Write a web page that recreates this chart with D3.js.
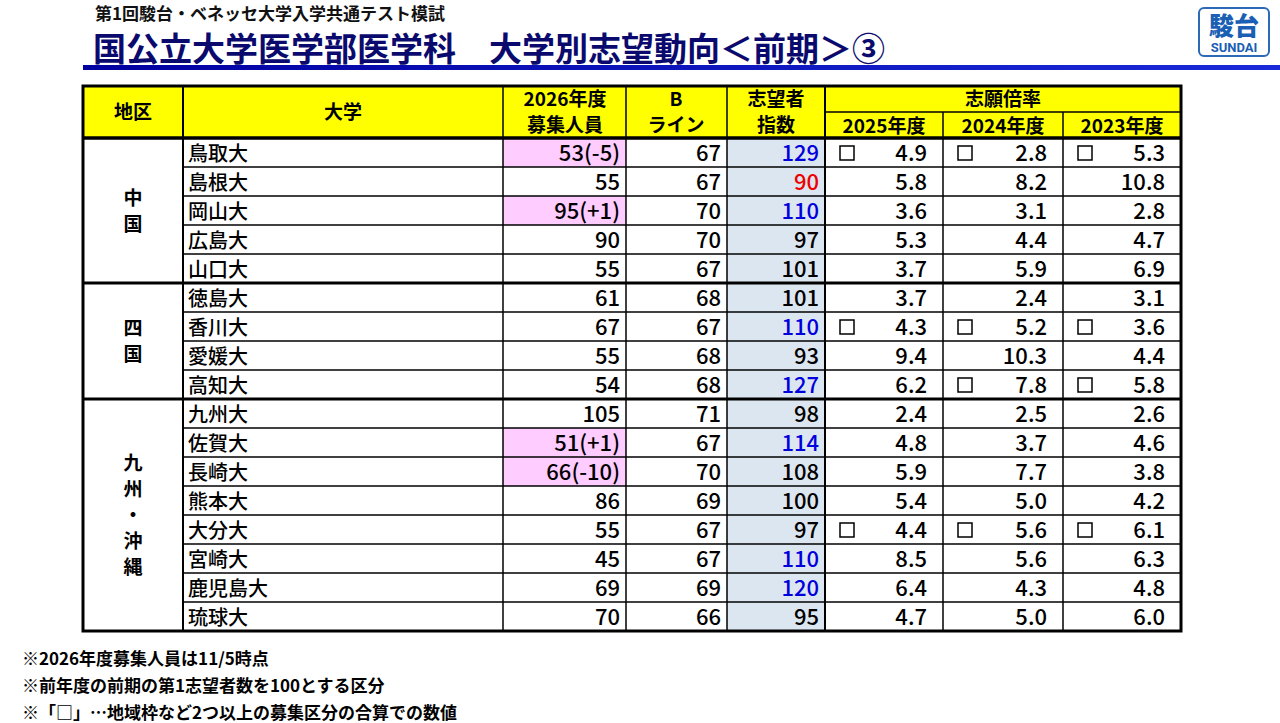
<!DOCTYPE html><html><head><meta charset="utf-8"><script src="https://cdn.jsdelivr.net/npm/d3@7"></script>
<style>body{margin:0;background:#fff}svg{display:block}</style></head><body><svg id="c" width="1280" height="723"></svg>
<script>
const regions=[{name:"中国",n:5},{name:"四国",n:4},{name:"九州・沖縄",n:8}];
const universities=["鳥取大","島根大","岡山大","広島大","山口大","徳島大","香川大","愛媛大","高知大","九州大","佐賀大","長崎大","熊本大","大分大","宮崎大","鹿児島大","琉球大"];
const capacity=["53(-5)","55","95(+1)","90","55","61","67","55","54","105","51(+1)","66(-10)","86","55","45","69","70"];
const bLine=[67,67,70,70,67,68,67,68,68,71,67,70,69,67,67,69,66];
const applicantIndex=[129,90,110,97,101,101,110,93,127,98,114,108,100,97,110,120,95];
const r2025=["4.9","5.8","3.6","5.3","3.7","3.7","4.3","9.4","6.2","2.4","4.8","5.9","5.4","4.4","8.5","6.4","4.7"];
const r2024=["2.8","8.2","3.1","4.4","5.9","2.4","5.2","10.3","7.8","2.5","3.7","7.7","5.0","5.6","5.6","4.3","5.0"];
const r2023=["5.3","10.8","2.8","4.7","6.9","3.1","3.6","4.4","5.8","2.6","4.6","3.8","4.2","6.1","6.3","4.8","6.0"];
const box2025=[1,0,0,0,0,0,1,0,0,0,0,0,0,1,0,0,0];
const box2024=[1,0,0,0,0,0,1,0,1,0,0,0,0,1,0,0,0];
const box2023=[1,0,0,0,0,0,1,0,1,0,0,0,0,1,0,0,0];
const notes=["※2026年度募集人員は11/5時点","※前年度の前期の第1志望者数を100とする区分","※「□」…地域枠など2つ以上の募集区分の合算での数値"];

const svg=d3.select("#c");const F="'Noto Sans CJK JP','Noto Sans',sans-serif";
svg.append("text").attr("x",95).attr("y",20).attr("font-family",F).attr("font-weight",700).attr("font-size",17).attr("fill","#111").text("第1回駿台・ベネッセ大学入学共通テスト模試");
svg.append("text").attr("x",93).attr("y",61).attr("font-family",F).attr("font-weight",700).attr("font-size",33).attr("fill","#0a0a6e").text("国公立大学医学部医学科　大学別志望動向＜前期＞③");
const g=svg.append("defs").append("linearGradient").attr("id","bl");
g.append("stop").attr("offset","0").attr("stop-color","#0000a0");g.append("stop").attr("offset","1").attr("stop-color","#1a2ad8");
svg.append("rect").attr("x",83).attr("y",65).attr("width",1197).attr("height",5).attr("fill","url(#bl)");
svg.append("rect").attr("x",1199).attr("y",8).attr("width",70).attr("height",48).attr("rx",5).attr("fill","#fff").attr("stroke","#2a6ab8").attr("stroke-width",2);
svg.append("text").attr("x",1234).attr("y",35).attr("text-anchor","middle").attr("font-family",F).attr("font-weight",900).attr("font-size",25).attr("fill","#1a5fb4").text("駿台");
svg.append("text").attr("x",1234).attr("y",52).attr("text-anchor","middle").attr("font-family","'Liberation Sans Narrow',Roboto,sans-serif").attr("font-weight",700).attr("font-size",13).attr("fill","#1a5fb4").text("SUNDAI");

const cols=[83,183,503,626,727,825,943,1063,1181];
const topY=86,hb=138,rh=29;
const y=d3.scaleLinear().domain([0,universities.length]).range([hb,hb+rh*universities.length]);
svg.append("rect").attr("x",83).attr("y",topY).attr("width",1098).attr("height",hb-topY).attr("fill","#ffff00");
const T=(x,yy,t,o={})=>svg.append("text").attr("x",x).attr("y",yy).attr("text-anchor",o.a||"middle").attr("font-family",F).attr("font-weight",o.w||500).attr("font-size",o.s||22).attr("fill",o.c||"#000").text(t);
const H={s:19,w:700};
T(133,119,"地区",H);T(343,119,"大学",H);
T(565,106,"2026年度",H);T(565,132,"募集人員",H);
T(676,106,"B",H);T(676,132,"ライン",H);
T(776,106,"志望者",H);T(776,132,"指数",H);
T(1003,106,"志願倍率",H);
["2025年度","2024年度","2023年度"].forEach((t,i)=>T((cols[5+i]+cols[6+i])/2,133,t,H));
universities.forEach((u,i)=>{
 const y0=y(i),yc=y(i)+23;
 if(capacity[i].includes("(")) svg.append("rect").attr("x",cols[2]).attr("y",y0).attr("width",cols[3]-cols[2]).attr("height",rh).attr("fill","#ffccff");
 svg.append("rect").attr("x",cols[4]).attr("y",y0).attr("width",cols[5]-cols[4]).attr("height",rh).attr("fill","#dce6f1");
 T(188,yc,u,{a:"start",s:20});
 T(cols[3]-6,yc,capacity[i],{a:"end"});
 T(cols[4]-6,yc,bLine[i],{a:"end"});
 const v=applicantIndex[i];
 T(cols[5]-6,yc,v,{a:"end",c:v>=110?"#0000dd":v<=90?"#ee0000":"#000"});
 [[r2025,box2025],[r2024,box2024],[r2023,box2023]].forEach(([r,b],k)=>{
  T(cols[6+k]-16,yc,r[i],{a:"end"});
  if(b[i]) svg.append("rect").attr("x",cols[5+k]+15).attr("y",y0+8).attr("width",14).attr("height",14).attr("fill","none").attr("stroke","#000").attr("stroke-width",1.5);
 });
});
const L=(x1,y1,x2,y2,w)=>svg.append("line").attr("x1",x1).attr("y1",y1).attr("x2",x2).attr("y2",y2).attr("stroke","#000").attr("stroke-width",w);
const bottom=y(universities.length);
let acc=0;
regions.forEach((r,k)=>{
 const y0=y(acc),y1=y(acc+r.n);
 const chars=[...r.name];const mid=(y0+y1)/2,step=26;
 chars.forEach((c,j)=>T(133,mid+(j-(chars.length-1)/2)*step+7,c,{s:19,w:700}));
 for(let j=1;j<r.n;j++)L(cols[1],y(acc+j),cols[8],y(acc+j),1.5);
 acc+=r.n; if(k<regions.length-1)L(cols[0],y1,cols[8],y1,3);
});
for(let j=1;j<8;j++){ L(cols[j],j>=6?112:topY,cols[j],bottom,j===5||j===1?2:1.5);}
L(825,112,1181,112,1.5);
L(83,hb,1181,hb,3.5);
svg.append("rect").attr("x",83).attr("y",topY).attr("width",1098).attr("height",bottom-topY).attr("fill","none").attr("stroke","#000").attr("stroke-width",3);
notes.forEach((n,i)=>T(22,665+i*27,n,{a:"start",s:17,w:700}));
</script></body></html>
